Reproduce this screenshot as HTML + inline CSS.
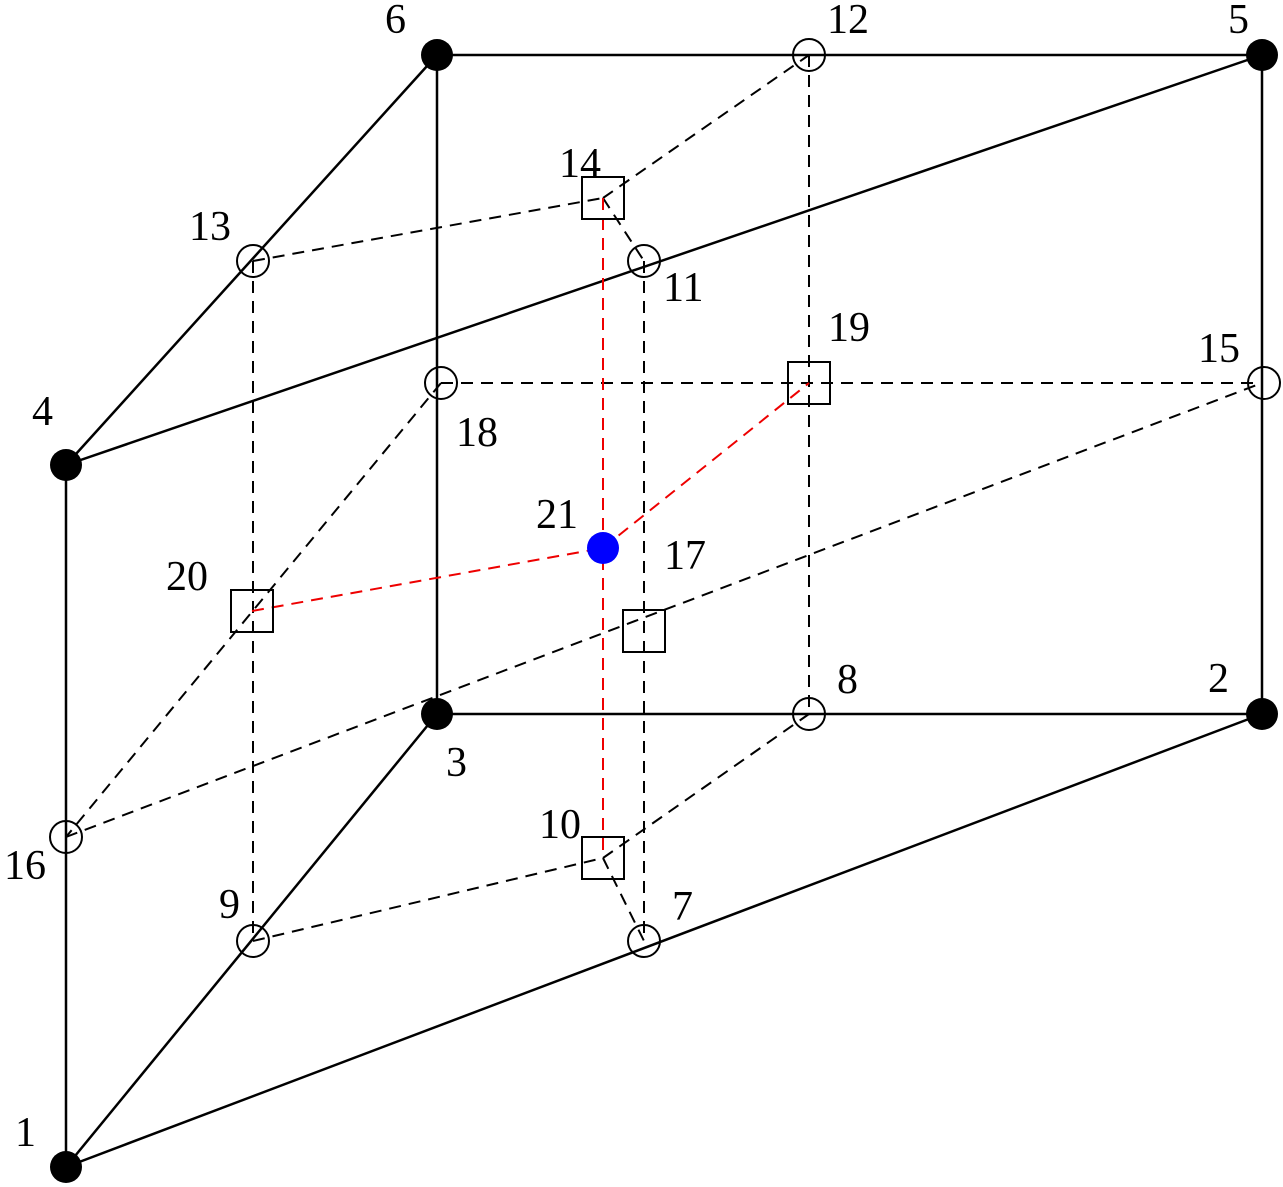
<!DOCTYPE html>
<html><head><meta charset="utf-8"><style>
html,body{margin:0;padding:0;background:#fff;}
svg{display:block;}
text{font-family:"Liberation Serif",serif;font-size:42px;fill:#000;}
</style></head><body>
<svg width="1283" height="1187" viewBox="0 0 1283 1187" xmlns="http://www.w3.org/2000/svg">
<g stroke="#000" stroke-width="2.5" fill="none">
<line x1="66" y1="1167" x2="66" y2="465"/>
<line x1="66" y1="465" x2="437" y2="55"/>
<line x1="437" y1="55" x2="1262" y2="55"/>
<line x1="1262" y1="55" x2="1262" y2="714"/>
<line x1="66" y1="1167" x2="1262" y2="714"/>
<line x1="66" y1="1167" x2="437" y2="714"/>
<line x1="437" y1="714" x2="1262" y2="714"/>
<line x1="437" y1="714" x2="437" y2="55"/>
<line x1="66" y1="465" x2="1262" y2="55"/>
</g>
<g stroke="#000" stroke-width="2" fill="none" stroke-dasharray="12,8">
<line x1="253" y1="261" x2="603" y2="198"/>
<line x1="603" y1="198" x2="809" y2="55"/>
<line x1="603" y1="198" x2="644" y2="261"/>
<line x1="253" y1="261" x2="253" y2="941"/>
<line x1="644" y1="261" x2="644" y2="941"/>
<line x1="809" y1="55" x2="809" y2="714"/>
<line x1="441" y1="383" x2="1262" y2="383"/>
<line x1="441" y1="383" x2="66" y2="837"/>
<line x1="66" y1="837" x2="1262" y2="383"/>
<line x1="253" y1="941" x2="603" y2="858"/>
<line x1="603" y1="858" x2="809" y2="714"/>
<line x1="603" y1="858" x2="644" y2="941"/>
</g>
<g stroke="#e00" stroke-width="2" fill="none" stroke-dasharray="12,8">
<line x1="603" y1="198" x2="603" y2="858"/>
<line x1="252" y1="611" x2="603" y2="548"/>
<line x1="603" y1="548" x2="809" y2="383"/>
</g>
<g fill="#000">
<circle cx="66" cy="1167" r="16"/>
<circle cx="1262" cy="714" r="16"/>
<circle cx="437" cy="714" r="16"/>
<circle cx="66" cy="465" r="16"/>
<circle cx="1262" cy="55" r="16"/>
<circle cx="437" cy="55" r="16"/>
</g>
<g stroke="#000" stroke-width="2" fill="none">
<circle cx="644" cy="941" r="16"/>
<circle cx="809" cy="714" r="16"/>
<circle cx="253" cy="941" r="16"/>
<circle cx="644" cy="261" r="16"/>
<circle cx="809" cy="55" r="16"/>
<circle cx="253" cy="261" r="16"/>
<circle cx="1264" cy="383" r="16"/>
<circle cx="66" cy="837" r="16"/>
<circle cx="441" cy="383" r="16"/>
<rect x="582" y="837" width="42" height="42"/>
<rect x="582" y="177" width="42" height="42"/>
<rect x="623" y="610" width="42" height="42"/>
<rect x="788" y="362" width="42" height="42"/>
<rect x="231" y="590" width="42" height="42"/>
</g>
<circle cx="603" cy="548" r="16" fill="#00f"/>
<text x="15" y="1146">1</text>
<text x="1208" y="692">2</text>
<text x="446" y="776">3</text>
<text x="32" y="425">4</text>
<text x="1228" y="33">5</text>
<text x="385" y="33">6</text>
<text x="672" y="920">7</text>
<text x="837" y="693">8</text>
<text x="219" y="918">9</text>
<text x="539" y="838">10</text>
<text x="663" y="301">11</text>
<text x="827" y="33">12</text>
<text x="189" y="240">13</text>
<text x="559" y="177">14</text>
<text x="1198" y="362">15</text>
<text x="4" y="879">16</text>
<text x="664" y="569">17</text>
<text x="456" y="446">18</text>
<text x="828" y="341">19</text>
<text x="166" y="590">20</text>
<text x="536" y="528">21</text>
</svg>
</body></html>
